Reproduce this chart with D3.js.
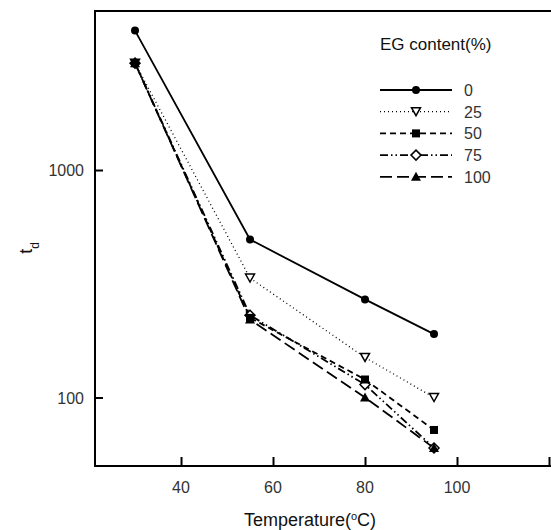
<!DOCTYPE html>
<html>
<head>
<meta charset="utf-8">
<script src="https://cdn.jsdelivr.net/npm/d3@7"></script>
<style>
  body { margin: 0; background: #fff; }
  svg { display: block; font-family: "Liberation Sans", Arial, sans-serif; }
</style>
</head>
<body>
<svg id="chart" width="551" height="530"></svg>
<script>
// data
const temps = [30, 55, 80, 95];
const egContent = ["0", "25", "50", "75", "100"];
const td0 = [4100, 495, 270, 190];
const td25 = [2950, 335, 150, 100];
const td50 = [2950, 224, 120, 72];
const td75 = [2950, 230, 114, 60];
const td100 = [2950, 220, 100, 60];
const xTicks = [40, 60, 80, 100, 120];
const xTickLabels = [40, 60, 80, 100];
const yTicks = [100, 1000];

const seriesValues = [td0, td25, td50, td75, td100];
const dashes = [null, "1,3", "6,4", "8,3,1.5,3,1.5,3", "12,5"];
const markers = ["circle", "triangleDown", "square", "diamond", "triangle"];
// marker stacking order seen in the figure (open ones underneath)
const markerOrder = [1, 3, 4, 2, 0];

const margin = { left: 95, top: 11, right: 560, bottom: 466 };

const svg = d3.select("#chart");

const x = d3.scaleLinear().domain([21.3, 120]).range([margin.left, 549]);
const y = d3.scaleLog().domain([50, 5000]).range([margin.bottom, margin.top]);

// frame (right side runs past the picture)
svg.append("rect")
    .attr("x", margin.left)
    .attr("y", margin.top)
    .attr("width", margin.right - margin.left)
    .attr("height", margin.bottom - margin.top)
    .attr("fill", "none")
    .attr("stroke", "#000")
    .attr("stroke-width", 2);

// axes with inward ticks
const xAxis = svg.append("g")
    .attr("transform", `translate(0,${margin.bottom})`)
    .call(d3.axisTop(x).tickValues(xTicks).tickSize(9).tickFormat(""));
xAxis.select(".domain").remove();
xAxis.selectAll("line").attr("stroke-width", 2);

svg.append("g")
    .selectAll("text")
    .data(xTickLabels)
    .join("text")
    .attr("x", (d) => x(d))
    .attr("y", margin.bottom + 27)
    .attr("text-anchor", "middle")
    .attr("font-size", 16)
    .attr("fill", "#333")
    .text((d) => d);

const yAxis = svg.append("g")
    .attr("transform", `translate(${margin.left},0)`)
    .call(d3.axisRight(y).tickValues(yTicks).tickSize(8).tickFormat(""));
yAxis.select(".domain").remove();
yAxis.selectAll("line").attr("stroke-width", 2);

svg.append("g")
    .selectAll("text")
    .data(yTicks)
    .join("text")
    .attr("x", margin.left - 11)
    .attr("y", (d) => y(d) + 6)
    .attr("text-anchor", "end")
    .attr("font-size", 16)
    .attr("fill", "#333")
    .text((d) => d);

// axis titles
svg.append("text")
    .attr("x", 310)
    .attr("y", 526)
    .attr("text-anchor", "middle")
    .attr("font-size", 18)
    .attr("fill", "#111")
    .html('Temperature(<tspan baseline-shift="super" font-size="11">o</tspan>C)');

svg.append("text")
    .attr("transform", "translate(32,248) rotate(-90)")
    .attr("text-anchor", "middle")
    .attr("font-size", 18)
    .attr("fill", "#111")
    .html('t<tspan baseline-shift="sub" font-size="12">d</tspan>');

function drawMarker(sel, type, cx, cy) {
    if (type === "circle") {
        sel.append("circle").attr("cx", cx).attr("cy", cy).attr("r", 4).attr("fill", "#000");
    } else if (type === "square") {
        sel.append("rect").attr("x", cx - 4).attr("y", cy - 4).attr("width", 8).attr("height", 8).attr("fill", "#000");
    } else if (type === "triangle") {
        sel.append("path").attr("d", `M${cx},${cy - 5}L${cx + 5},${cy + 4}L${cx - 5},${cy + 4}Z`).attr("fill", "#000");
    } else if (type === "triangleDown") {
        sel.append("path").attr("d", `M${cx - 4.5},${cy - 4}L${cx + 4.5},${cy - 4}L${cx},${cy + 4}Z`)
            .attr("fill", "#fff").attr("stroke", "#000").attr("stroke-width", 1.5);
    } else if (type === "diamond") {
        sel.append("path").attr("d", `M${cx},${cy - 5}L${cx + 5},${cy}L${cx},${cy + 5}L${cx - 5},${cy}Z`)
            .attr("fill", "#fff").attr("stroke", "#000").attr("stroke-width", 1.5);
    }
}

const line = d3.line()
    .x((d, i) => x(temps[i]))
    .y((d) => y(d));

const plot = svg.append("g");

seriesValues.forEach((vals, k) => {
    plot.append("path")
        .datum(vals)
        .attr("d", line)
        .attr("fill", "none")
        .attr("stroke", "#000")
        .attr("stroke-width", k === 1 ? 1.3 : 1.8)
        .attr("stroke-dasharray", dashes[k]);
});

markerOrder.forEach((k) => {
    seriesValues[k].forEach((v, i) => drawMarker(plot, markers[k], x(temps[i]), y(v)));
});

// legend
const legend = svg.append("g");
legend.append("text")
    .attr("x", 380)
    .attr("y", 50)
    .attr("font-size", 17)
    .attr("fill", "#111")
    .text("EG content(%)");

egContent.forEach((label, k) => {
    const ly = 90 + k * 21.7;
    legend.append("line")
        .attr("x1", 380).attr("x2", 452)
        .attr("y1", ly).attr("y2", ly)
        .attr("stroke", "#000")
        .attr("stroke-width", k === 1 ? 1.3 : 1.8)
        .attr("stroke-dasharray", dashes[k]);
    drawMarker(legend, markers[k], 416, ly);
    legend.append("text")
        .attr("x", 464)
        .attr("y", ly + 6)
        .attr("font-size", 16)
        .attr("fill", "#333")
        .text(label);
});
</script>
</body>
</html>
